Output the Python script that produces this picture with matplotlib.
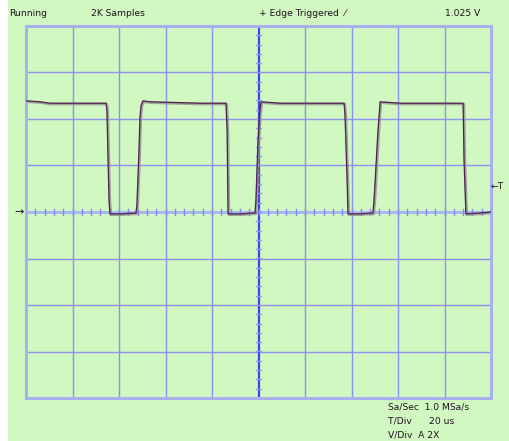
import matplotlib.pyplot as plt
import numpy as np

# trace: time in us, level in divisions (0 = centre line)
time_us = [0, 6.0, 10.3, 34.4, 34.8, 35.3, 35.7, 36.1, 40.4, 47.3, 47.7, 48.6, 49.0, 49.5, 50.3,
           53.3, 74.8, 86.0, 86.5, 86.9, 92.0, 98.5, 98.9, 99.8, 100.6, 101.1, 109.2, 117.8,
           136.8, 137.2, 138.1, 138.5, 143.6, 149.2, 149.7, 151.4, 152.3, 160.9, 188.0, 188.4,
           189.2, 195.3, 200.0]
level_div = [2.39, 2.37, 2.34, 2.34, 2.19, 1.12, 0.26, -0.04, -0.04, -0.02, 0.15, 1.33, 2.02, 2.30, 2.39,
             2.37, 2.34, 2.34, 1.76, -0.04, -0.04, -0.02, 0.26, 1.55, 2.19, 2.37, 2.34, 2.34,
             2.34, 2.09, 0.69, -0.04, -0.04, -0.02, 0.26, 1.76, 2.37, 2.34, 2.34, 1.12,
             -0.04, -0.02, 0.0]

t_per_div = 20
n_xdiv = 10
n_ydiv = 8
trigger_div = 0.54

header = ["Running", "2K Samples", "+ Edge Triggered  \u2044", "1.025 V"]
header_x = [9, 91, 259, 445]
footer = ["Sa/Sec  1.0 MSa/s", "T/Div      20 us", "V/Div  A 2X"]

bg = "#d0f8c0"
fig = plt.figure(figsize=(5.09, 4.41), dpi=100, facecolor=bg)
fig.patches.append(plt.Rectangle((0, 0), 7 / 509, 1, transform=fig.transFigure,
                                 color="white", zorder=0))
ax = fig.add_axes([26 / 509, 43 / 441, 465 / 509, 372 / 441])
ax.set_facecolor(bg)

x = np.array(time_us) / t_per_div
ax.set_xlim(0, n_xdiv)
ax.set_ylim(-n_ydiv / 2, n_ydiv / 2)

for i in range(1, n_xdiv):
    if i != n_xdiv // 2:
        ax.axvline(i, color="#9090f2", lw=1, zorder=1)
for j in range(-n_ydiv // 2 + 1, n_ydiv // 2):
    if j != 0:
        ax.axhline(j, color="#9090f2", lw=1, zorder=1)

ax.axhline(0, color="#a8b8f0", lw=2.2, zorder=1)
ax.axvline(n_xdiv / 2, color="#4040f4", lw=1.6, zorder=1)

# small ticks on the centre lines
for m in np.arange(0, n_xdiv + 0.01, 0.2):
    ax.plot([m, m], [-0.07, 0.07], color="#8888f0", lw=1, zorder=1)
for m in np.arange(-n_ydiv / 2, n_ydiv / 2 + 0.01, 0.2):
    ax.plot([n_xdiv / 2 - 0.05, n_xdiv / 2 + 0.05], [m, m], color="#9898f0", lw=1, zorder=1)

for s in ax.spines.values():
    s.set_color("#a8b0f0")
    s.set_linewidth(2.2)
ax.set_xticks([])
ax.set_yticks([])

ax.plot(x + 0.02, np.array(level_div) - 0.02, color="#909090", lw=1.8, alpha=0.8, zorder=2)
ax.plot(x, level_div, color="#502050", lw=0.9, zorder=3)

fs = 6.6
tc = "#201020"
for txt, px in zip(header, header_x):
    fig.text(px / 509, 1 - 14 / 441, txt, fontsize=fs, color=tc, va="center", ha="left")
for k, txt in enumerate(footer):
    fig.text(388 / 509, 1 - (407 + 14 * k) / 441, txt, fontsize=fs, color=tc, va="center", ha="left")

fig.text(14 / 509, 1 - 212 / 441, "\u2192", fontsize=8, color=tc, va="center", ha="left")
fig.text(491 / 509, 1 - (212 - trigger_div * 46.5) / 441, "\u2190T", fontsize=fs, color=tc,
         va="center", ha="left")

fig.savefig("out.png", dpi=100, facecolor=bg)
